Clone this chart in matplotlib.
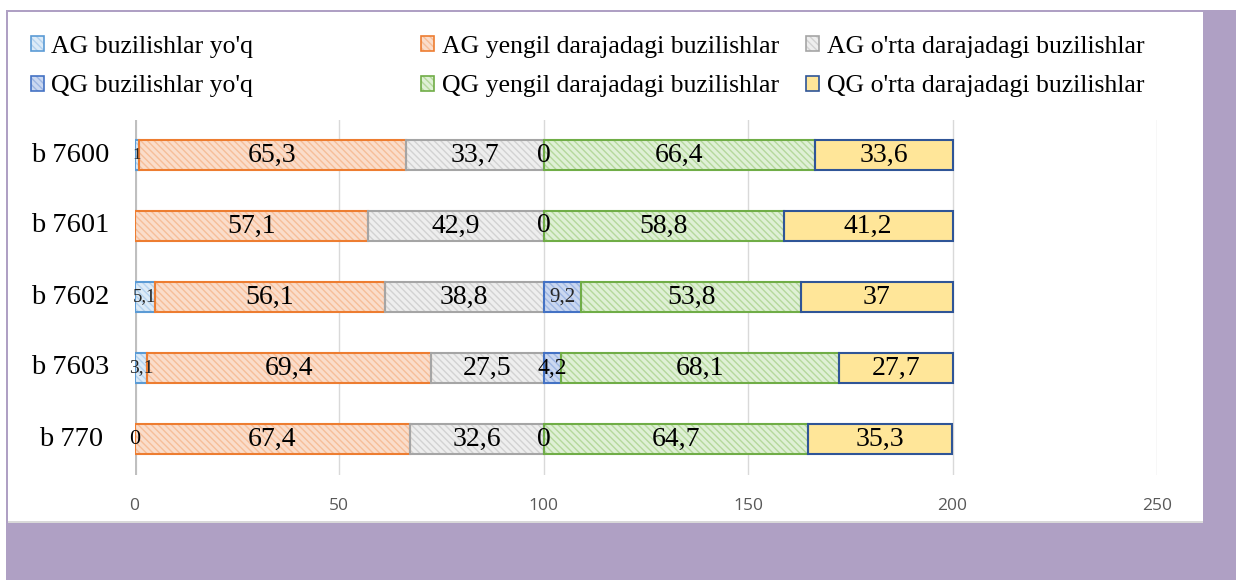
import numpy as np
import matplotlib
matplotlib.use('Agg')
import matplotlib.pyplot as plt
from matplotlib.patches import Patch, Rectangle

# datos
categorias = ['b 7600', 'b 7601', 'b 7602', 'b 7603', 'b 770']
ag_yoq = [1, np.nan, 5.1, 3.1, 0]
ag_yengil = [65.3, 57.1, 56.1, 69.4, 67.4]
ag_orta = [33.7, 42.9, 38.8, 27.5, 32.6]
qg_yoq = [0, 0, 9.2, 4.2, 0]
qg_yengil = [66.4, 58.8, 53.8, 68.1, 64.7]
qg_orta = [33.6, 41.2, 37, 27.7, 35.3]
nombres = ["AG buzilishlar yo'q", "AG yengil darajadagi buzilishlar",
           "AG o'rta darajadagi buzilishlar", "QG buzilishlar yo'q",
           "QG yengil darajadagi buzilishlar", "QG o'rta darajadagi buzilishlar"]
xticks = [0, 50, 100, 150, 200, 250]

# estilo: (relleno, color trama, borde, trama)
estilos = [('#DDEBF7', '#B4D2EE', '#5B9BD5', '\\\\\\\\\\'),
           ('#FADDCB', '#F6BE99', '#ED7D31', '\\\\\\\\\\'),
           ('#EEEEEE', '#D2D2D2', '#A5A5A5', '\\\\\\\\\\'),
           ('#CBD8F0', '#9DB5E2', '#4472C4', '\\\\\\\\\\'),
           ('#DFF0D6', '#B5D89C', '#70AD47', '\\\\\\\\\\'),
           ('#FFE699', '#FFE699', '#2F5597', '')]
# etiquetas pequenas (serie, fila) -> tamano
tam_etiqueta = {(0, 0): 12, (0, 2): 13.5, (0, 3): 14, (0, 4): 16, (3, 2): 15, (3, 3): 17}

W, H = 1236, 580
PURPURA = '#AFA0C4'
serif = 'Liberation Serif'

fig = plt.figure(figsize=(W / 100, H / 100), dpi=100)
fig.patch.set_facecolor('white')
fig.add_artist(Rectangle((6 / W, 0), 1, (H - 10) / H, transform=fig.transFigure,
                         facecolor=PURPURA, edgecolor='none', zorder=-3))
fig.add_artist(Rectangle((8 / W, (H - 523) / H), (1203 - 8) / W, 2 / H, transform=fig.transFigure,
                         facecolor='#D9D9D9', edgecolor='none', zorder=-2.5))
fig.add_artist(Rectangle((8 / W, (H - 521) / H), (1203 - 8) / W, (521 - 12) / H,
                         transform=fig.transFigure, facecolor='white', edgecolor='none', zorder=-2))

ax = fig.add_axes([134.5 / W, (H - 474.5) / H, 1022.5 / W, 355 / H])
ax.set_facecolor('none')

series = [ag_yoq, ag_yengil, ag_orta, qg_yoq, qg_yengil, qg_orta]
y = np.arange(len(categorias))
izq = np.zeros(len(categorias))
alto = 0.41
handles = []
for s, (vals, (face, hc, borde, trama)) in enumerate(zip(series, estilos)):
    v = np.array(vals, dtype=float)
    w = np.nan_to_num(v)
    ax.barh(y, w, left=izq, height=alto, color=face, edgecolor=hc, hatch=trama,
            linewidth=0, zorder=2)
    ax.barh(y, w, left=izq, height=alto, fill=False, edgecolor=borde, linewidth=1.5, zorder=3)
    for i in range(len(y)):
        if np.isnan(v[i]):
            continue
        txt = f'{v[i]:g}'.replace('.', ',')
        fs = tam_etiqueta.get((s, i), 20)
        col = '#262626' if fs < 16 else 'black'
        ax.text(izq[i] + w[i] / 2, y[i], txt, ha='center', va='center', fontsize=fs,
                family=serif, color=col, zorder=4)
    izq += w
    handles.append((Patch(facecolor=face, edgecolor=hc, hatch=trama, linewidth=0),
                    Patch(fill=False, edgecolor=borde, linewidth=1.2)))

ax.set_xlim(0, 250)
ax.set_ylim(len(categorias) - 0.5, -0.5)
ax.set_xticks(xticks)
ax.set_xticklabels([str(t) for t in xticks], family='Open Sans', fontsize=12.5, color='#595959')
ax.set_yticks(y)
ax.set_yticklabels(categorias, family=serif, fontsize=20.5, ha='center', va='center')
ax.tick_params(axis='x', length=0, pad=17)
ax.tick_params(axis='y', length=0, pad=46)
for t in xticks[1:]:
    ax.axvline(t, color='#D9D9D9', lw=1, zorder=0)
ax.axvline(0, color='#BFBFBF', lw=3, zorder=1)
for sp in ax.spines.values():
    sp.set_visible(False)

# leyenda en tres columnas (dos filas cada una)
xs = [30.7, 421, 806]
for c in range(3):
    fig.legend([handles[c], handles[c + 3]], [nombres[c], nombres[c + 3]],
               loc='upper left', bbox_to_anchor=(xs[c] / W, (H - 35.5) / H),
               frameon=False, borderpad=0, borderaxespad=0,
               handlelength=0.5, handleheight=0.5, handletextpad=0.3,
               labelspacing=0.7, prop={'family': serif, 'size': 18.5})

fig.savefig('out.png', dpi=100)
